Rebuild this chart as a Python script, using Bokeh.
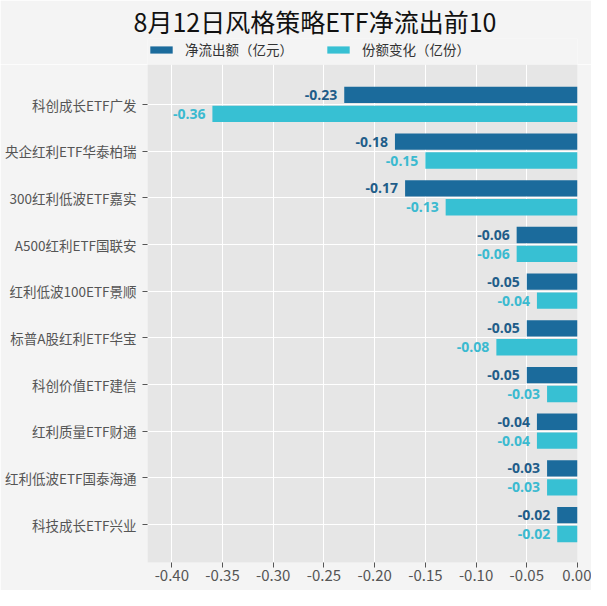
from bokeh.plotting import figure
from bokeh.layouts import column
from bokeh.models import (Range1d, FixedTicker, Legend, LegendItem, ColumnDataSource)
from bokeh.transform import dodge
from bokeh.core.properties import value
from bokeh.embed import file_html
from bokeh.resources import INLINE

title_text = "8月12日风格策略ETF净流出前10"
categories = ["科创成长ETF广发", "央企红利ETF华泰柏瑞", "300红利低波ETF嘉实", "A500红利ETF国联安",
              "红利低波100ETF景顺", "标普A股红利ETF华宝", "科创价值ETF建信", "红利质量ETF财通",
              "红利低波ETF国泰海通", "科技成长ETF兴业"]
net_outflow = [-0.23, -0.18, -0.17, -0.06, -0.05, -0.05, -0.05, -0.04, -0.03, -0.02]
share_change = [-0.36, -0.15, -0.13, -0.06, -0.04, -0.08, -0.03, -0.04, -0.03, -0.02]
series_names = ["净流出额（亿元）", "份额变化（亿份）"]
x_ticks = [-0.40, -0.35, -0.30, -0.25, -0.20, -0.15, -0.10, -0.05, 0.00]
x_tick_labels = ["-0.40", "-0.35", "-0.30", "-0.25", "-0.20", "-0.15", "-0.10", "-0.05", "0.00"]

DARK = "#1b6b9c"
LIGHT = "#37c0d3"
DARK_TXT = "#1f5d89"
LIGHT_TXT = "#3bbad0"
PAGE_BG = "#f4f4f4"
CJK = "Noto Sans CJK SC"
W, HEAD_H, BODY_H = 591, 64, 526
BL, BR = 147, 14

# ---- header figure: title (title panel) + legend ----
top = figure(width=W, height=HEAD_H, output_backend="svg", toolbar_location=None,
             x_range=Range1d(0, 1), y_range=Range1d(0, 1),
             min_border_left=BL, min_border_right=BR, min_border_top=0, min_border_bottom=0)
top.axis.visible = False
top.grid.visible = False
top.outline_line_color = None
top.background_fill_color = PAGE_BG
top.border_fill_color = PAGE_BG
# zero-width proxy bars, used only for the legend swatches
lr1 = top.hbar(y=[0], left=[0], right=[0], height=1, fill_color=DARK, line_color=None)
lr2 = top.hbar(y=[0], left=[0], right=[0], height=1, fill_color=LIGHT, line_color=None)
legend = Legend(items=[LegendItem(label=series_names[0], renderers=[lr1]),
                       LegendItem(label=series_names[1], renderers=[lr2])],
                orientation="horizontal", location=(0, 5),
                glyph_width=28, glyph_height=9, label_standoff=10, spacing=31,
                padding=5, margin=0, border_line_color=None, background_fill_alpha=0,
                label_text_font=CJK, label_text_font_size="13.5px", label_text_color="#333333")
top.add_layout(legend, "center")
top.title.text = title_text
top.title.text_font = CJK
top.title.text_font_size = "25px"
top.title.text_font_style = "normal"
top.title.text_color = "#111111"
top.title.align = "left"
top.title.offset = -14
top.title.standoff = 0

# ---- main chart ----
idx = list(range(len(categories)))
src = ColumnDataSource(dict(
    idx=idx, net=net_outflow, share=share_change,
    net_lbl=[f"{v:.2f}" for v in net_outflow],
    share_lbl=[f"{v:.2f}" for v in share_change],
))

p = figure(width=W, height=BODY_H, output_backend="svg", toolbar_location=None,
           x_range=Range1d(-0.424, 0.0), y_range=Range1d(9.81, -0.857),
           min_border_left=BL, min_border_right=BR, min_border_top=0, min_border_bottom=28)
p.background_fill_color = "#e6e6e6"
p.border_fill_color = PAGE_BG
p.outline_line_color = None

d_off, l_off, h = -0.205, 0.2, 0.35
p.hbar(y=dodge("idx", d_off), left="net", right=0, height=h, source=src,
       fill_color=DARK, line_color=None)
p.hbar(y=dodge("idx", l_off), left="share", right=0, height=h, source=src,
       fill_color=LIGHT, line_color=None)
p.text(x="net", y=dodge("idx", d_off), text="net_lbl", source=src, x_offset=-7,
       text_align="right", text_baseline="middle", text_font=value("Open Sans"),
       text_font_style="bold", text_font_size="14px", text_color=DARK_TXT)
p.text(x="share", y=dodge("idx", l_off), text="share_lbl", source=src, x_offset=-7,
       text_align="right", text_baseline="middle", text_font=value("Open Sans"),
       text_font_style="bold", text_font_size="14px", text_color=LIGHT_TXT)

p.yaxis.ticker = FixedTicker(ticks=idx)
p.yaxis.major_label_overrides = {i: c for i, c in zip(idx, categories)}
p.yaxis.minor_tick_line_color = None
p.yaxis.axis_line_color = None
p.yaxis.major_tick_in = 0
p.yaxis.major_tick_out = 5
p.yaxis.major_tick_line_color = "#555555"
p.yaxis.major_label_text_font = CJK
p.yaxis.major_label_text_font_size = "13.5px"
p.yaxis.major_label_text_color = "#555555"
p.yaxis.major_label_standoff = 6

p.xaxis.ticker = FixedTicker(ticks=x_ticks)
p.xaxis.major_label_overrides = {t: l for t, l in zip(x_ticks, x_tick_labels)}
p.xaxis.minor_tick_line_color = None
p.xaxis.axis_line_color = None
p.xaxis.major_tick_in = 0
p.xaxis.major_tick_out = 5
p.xaxis.major_tick_line_color = "#555555"
p.xaxis.major_label_text_font = CJK
p.xaxis.major_label_text_font_size = "15px"
p.xaxis.major_label_text_color = "#555555"
p.xaxis.major_label_standoff = 2

p.xgrid.grid_line_color = "white"
p.ygrid.grid_line_color = "white"
p.xgrid.grid_line_width = 1
p.ygrid.grid_line_width = 1

layout = column(top, p, spacing=0)
open("out.html", "w").write(file_html(layout, INLINE))
